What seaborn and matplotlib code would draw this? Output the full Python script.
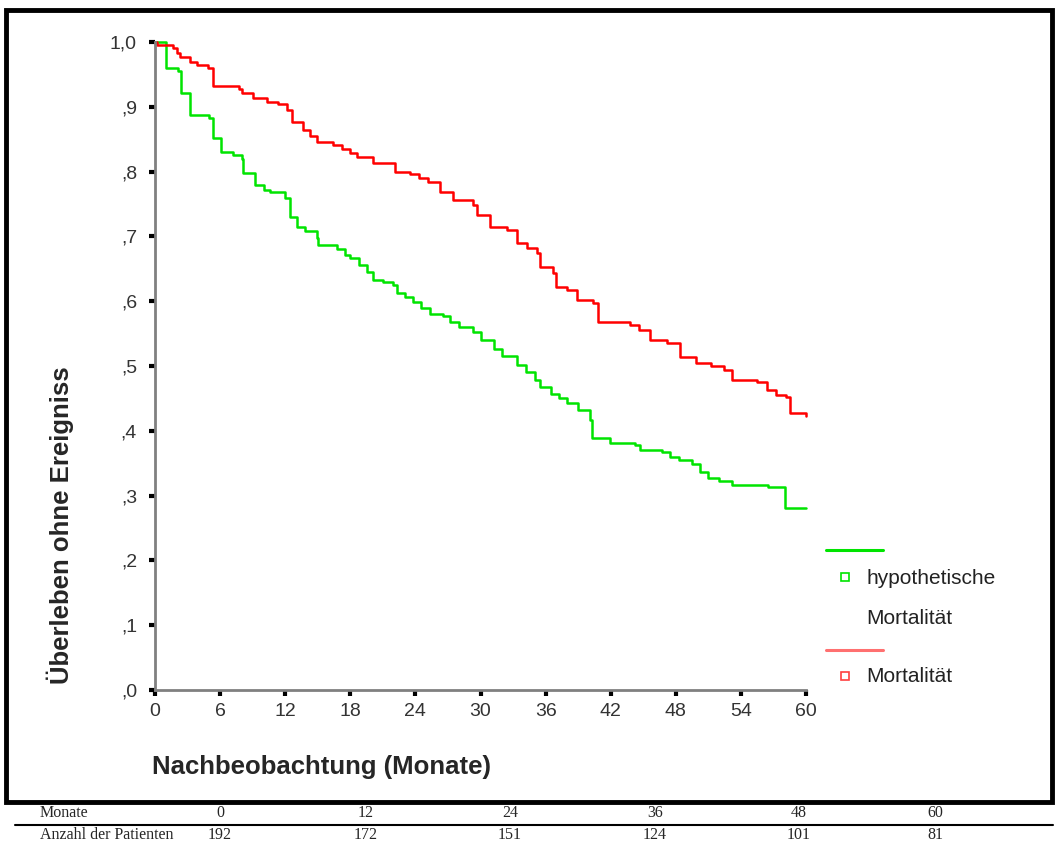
import matplotlib
matplotlib.use('Agg')
import matplotlib.pyplot as plt
import pandas as pd
import seaborn as sns
from matplotlib.lines import Line2D
from matplotlib.patches import Rectangle

# Kaplan-Meier step points (months, survival)
hyp_t = [0, 1.0, 2.1, 2.4, 3.2, 5.0, 5.3, 6.1, 7.2, 8.0, 8.1, 9.2, 10.0, 10.6, 12.0, 12.4,
         13.1, 13.8, 14.9, 15.0, 16.8, 17.5, 18.0, 18.8, 19.5, 20.1, 21.0, 21.9, 22.3, 23.0,
         23.8, 24.5, 25.3, 26.5, 27.2, 28.0, 29.3, 30.0, 31.2, 32.0, 33.4, 34.2, 35.0, 35.5,
         36.5, 37.2, 38.0, 39.0, 40.1, 40.3, 41.9, 44.2, 44.7, 46.7, 47.5, 48.3, 49.5, 50.2,
         51.0, 52.0, 53.2, 56.5, 58.1, 60.0]
hyp_s = [1.0, 0.960, 0.955, 0.922, 0.887, 0.882, 0.852, 0.830, 0.825, 0.820, 0.798, 0.779,
         0.772, 0.769, 0.760, 0.730, 0.715, 0.708, 0.698, 0.687, 0.680, 0.672, 0.667, 0.656,
         0.645, 0.633, 0.629, 0.625, 0.613, 0.606, 0.599, 0.590, 0.580, 0.577, 0.568, 0.560,
         0.552, 0.540, 0.526, 0.515, 0.502, 0.490, 0.478, 0.468, 0.457, 0.450, 0.443, 0.432,
         0.417, 0.389, 0.381, 0.378, 0.370, 0.367, 0.360, 0.355, 0.348, 0.336, 0.327, 0.322,
         0.316, 0.313, 0.281, 0.281]

mort_t = [0, 0.2, 1.7, 2.0, 2.3, 3.2, 3.9, 4.9, 5.3, 7.7, 8.0, 9.0, 10.3, 11.3, 12.2, 12.6,
          13.6, 14.3, 14.9, 16.4, 17.2, 18.0, 18.6, 20.1, 22.1, 23.5, 24.3, 25.2, 26.3, 27.5,
          29.3, 29.7, 30.9, 32.4, 33.4, 34.3, 35.2, 35.5, 36.7, 37.0, 38.0, 38.9, 40.4, 40.8,
          43.8, 44.6, 45.6, 47.2, 48.4, 49.9, 51.2, 52.4, 53.2, 55.5, 56.4, 57.2, 58.2, 58.5,
          60.0]
mort_s = [1.0, 0.995, 0.990, 0.983, 0.977, 0.969, 0.965, 0.960, 0.932, 0.928, 0.922, 0.914,
          0.908, 0.905, 0.895, 0.877, 0.864, 0.855, 0.846, 0.841, 0.835, 0.829, 0.823, 0.813,
          0.799, 0.796, 0.790, 0.784, 0.768, 0.756, 0.748, 0.733, 0.714, 0.710, 0.690, 0.682,
          0.674, 0.653, 0.643, 0.622, 0.617, 0.602, 0.597, 0.568, 0.563, 0.556, 0.540, 0.535,
          0.514, 0.505, 0.500, 0.494, 0.478, 0.475, 0.463, 0.455, 0.452, 0.427, 0.423]

x_ticks = [0, 6, 12, 18, 24, 30, 36, 42, 48, 54, 60]
y_ticks = [0.0, 0.1, 0.2, 0.3, 0.4, 0.5, 0.6, 0.7, 0.8, 0.9, 1.0]
y_labels = [',0', ',1', ',2', ',3', ',4', ',5', ',6', ',7', ',8', ',9', '1,0']

table_months = ['0', '12', '24', '36', '48', '60']
table_patients = ['192', '172', '151', '124', '101', '81']

df = pd.concat([
    pd.DataFrame({'t': hyp_t, 's': hyp_s, 'grp': 'hypothetische Mortalität'}),
    pd.DataFrame({'t': mort_t, 's': mort_s, 'grp': 'Mortalität'}),
])

sns.set_style('white')
plt.rcParams['font.family'] = ['Liberation Sans', 'DejaVu Sans']

fig = plt.figure(figsize=(10.58, 8.43), dpi=100)
ax = fig.add_axes([155 / 1058, 1 - 690 / 843, 651 / 1058, 648 / 843])

pal = {'hypothetische Mortalität': '#00e400', 'Mortalität': '#ff0000'}
sns.lineplot(data=df, x='t', y='s', hue='grp', palette=pal, estimator=None, sort=False,
             drawstyle='steps-post', linewidth=1.8, legend=False, ax=ax)
for ln in ax.lines:
    ln.set_clip_on(False)

ax.set_xlim(0, 60)
ax.set_ylim(0, 1)
ax.set_xticks(x_ticks)
ax.set_xticklabels([str(v) for v in x_ticks])
ax.set_yticks(y_ticks)
ax.set_yticklabels(y_labels)
ax.tick_params(bottom=True, left=True, direction='out', length=4, width=3, color='black',
               labelsize=14, labelcolor='#333333')
ax.tick_params(axis='y', pad=9)
ax.tick_params(axis='x', pad=5)
for side in ['top', 'right']:
    ax.spines[side].set_visible(False)
for side in ['left', 'bottom']:
    ax.spines[side].set_color('#808080')
    ax.spines[side].set_linewidth(2)
ax.set_xlabel('')
ax.set_ylabel('')

fig.text(0.057, 1 - 525 / 843, 'Überleben ohne Ereigniss', rotation=90, ha='center',
         va='center', fontsize=18.5, fontweight='bold')
fig.text(152 / 1058, 1 - 767 / 843, 'Nachbeobachtung (Monate)', ha='left', va='center',
         fontsize=18.5, fontweight='bold')

# legend drawn by hand like the original
def fx(px):
    return px / 1058

def fy(py):
    return 1 - py / 843

fig.add_artist(Line2D([fx(826), fx(883)], [fy(550), fy(550)], color='#00e400', lw=2.2))
fig.add_artist(Line2D([fx(845)], [fy(577)], marker='s', markersize=6, markerfacecolor='white',
                      markeredgecolor='#00e400', markeredgewidth=1.2, linestyle='none'))
fig.text(fx(866), fy(578), 'hypothetische', ha='left', va='center', fontsize=15, color='#222222')
fig.text(fx(866), fy(619), 'Mortalität', ha='left', va='center', fontsize=15, color='#222222')
fig.add_artist(Line2D([fx(826), fx(883)], [fy(650), fy(650)], color='#ff7070', lw=2.2))
fig.add_artist(Line2D([fx(845)], [fy(676)], marker='s', markersize=6, markerfacecolor='white',
                      markeredgecolor='#ff4040', markeredgewidth=1.2, linestyle='none'))
fig.text(fx(866), fy(677), 'Mortalität', ha='left', va='center', fontsize=15, color='#222222')

# black frame around the chart
fig.add_artist(Rectangle((fx(6), fy(802)), fx(1052) - fx(6), fy(10) - fy(802),
                         fill=False, edgecolor='black', linewidth=3.5))

# table underneath
col_x = [220, 366, 510, 655, 799, 935]
serif = ['Liberation Serif']
fig.text(fx(40), fy(813), 'Monate', ha='left', va='center', fontsize=11.5, family=serif)
fig.text(fx(40), fy(835), 'Anzahl der Patienten', ha='left', va='center', fontsize=11.5,
         family=serif)
for cx, m, p in zip(col_x, table_months, table_patients):
    fig.text(fx(cx), fy(813), m, ha='center', va='center', fontsize=11.5, family=serif)
    fig.text(fx(cx), fy(835), p, ha='center', va='center', fontsize=11.5, family=serif)
fig.add_artist(Line2D([fx(15), fx(1053)], [fy(825), fy(825)], color='black', lw=1.5))

fig.savefig('out.png', dpi=100)
